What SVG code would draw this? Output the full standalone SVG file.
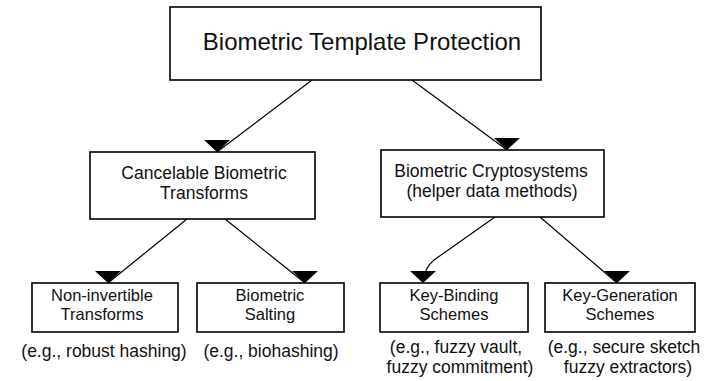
<svg xmlns="http://www.w3.org/2000/svg" width="706" height="381" viewBox="0 0 706 381">
<defs>
<style>
.box{fill:#fff;stroke:#000;stroke-width:1.6}
.t{font-family:"Liberation Sans",Arial,sans-serif;fill:#111;text-anchor:middle}
.m{font-size:17.5px}
.s{font-size:16.5px}
.title{font-size:24px}
.c{fill:none;stroke:#000;stroke-width:1.2}
</style>
<marker id="ah" viewBox="0 0 26 12" refX="13" refY="12" markerWidth="26" markerHeight="12" markerUnits="userSpaceOnUse" orient="0">
<path d="M0,0 L26,0 L13,12 Z" fill="#000"/>
</marker>
</defs>
<rect width="706" height="381" fill="#fff"/>
<g id="connectors">
<path class="c" d="M312,80 L217,152" marker-end="url(#ah)"/>
<path class="c" d="M412,80 L507,150" marker-end="url(#ah)"/>
<path class="c" d="M187,219 L108,283" marker-end="url(#ah)"/>
<path class="c" d="M225,219 L305,283" marker-end="url(#ah)"/>
<path class="c" d="M495,217 L434,260 Q424,268 423,283" marker-end="url(#ah)"/>
<path class="c" d="M540,217 L617,283" marker-end="url(#ah)"/>
</g>
<g id="root">
<rect class="box" x="170" y="7" width="371" height="73"/>
<text class="t title" x="362" y="50">Biometric Template Protection</text>
</g>
<g id="cancelable">
<rect class="box" x="90" y="152" width="225" height="67"/>
<text class="t m" x="204" y="179">Cancelable Biometric</text>
<text class="t m" x="204" y="199">Transforms</text>
</g>
<g id="cryptosystems">
<rect class="box" x="381" y="150" width="223" height="67"/>
<text class="t m" x="491" y="177">Biometric Cryptosystems</text>
<text class="t m" x="492" y="197">(helper data methods)</text>
</g>
<g id="noninvertible">
<rect class="box" x="32" y="283" width="146" height="49"/>
<text class="t s" x="102" y="301">Non-invertible</text>
<text class="t s" x="102" y="320">Transforms</text>
<text class="t m" x="104" y="357">(e.g., robust hashing)</text>
</g>
<g id="salting">
<rect class="box" x="197" y="283" width="147" height="49"/>
<text class="t s" x="270" y="301">Biometric</text>
<text class="t s" x="270" y="320">Salting</text>
<text class="t m" x="271" y="357">(e.g., biohashing)</text>
</g>
<g id="keybinding">
<rect class="box" x="380" y="283" width="148" height="49"/>
<text class="t s" x="454" y="301">Key-Binding</text>
<text class="t s" x="454" y="320">Schemes</text>
<text class="t m" x="456" y="353">(e.g., fuzzy vault,</text>
<text class="t m" x="460" y="373">fuzzy commitment)</text>
</g>
<g id="keygeneration">
<rect class="box" x="545" y="283" width="150" height="49"/>
<text class="t s" x="620" y="301">Key-Generation</text>
<text class="t s" x="620" y="320">Schemes</text>
<text class="t m" x="624" y="353">(e.g., secure sketch</text>
<text class="t m" x="628" y="373">fuzzy extractors)</text>
</g>
</svg>
